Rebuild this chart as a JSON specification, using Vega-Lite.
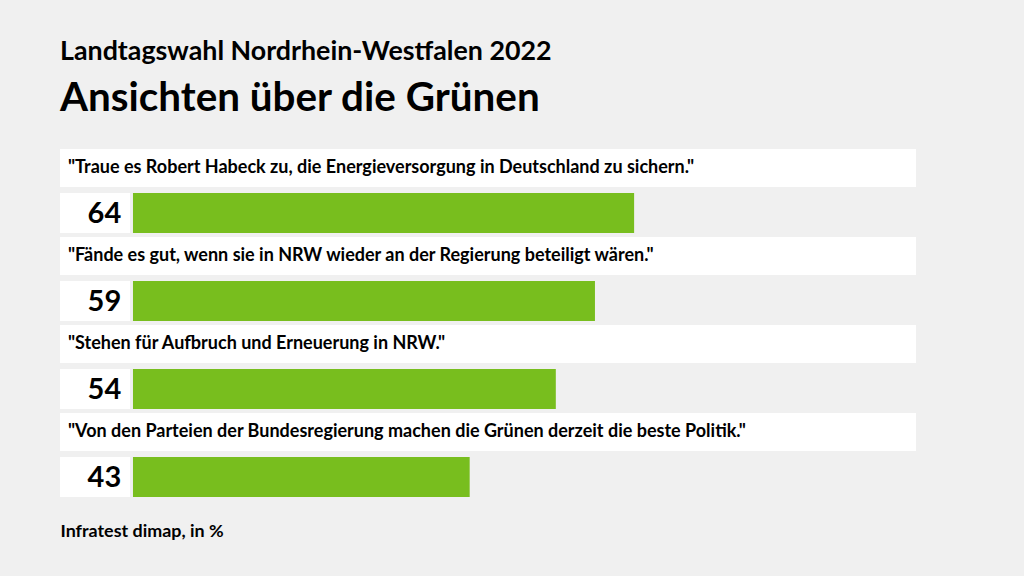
{
  "$schema": "https://vega.github.io/schema/vega-lite/v6.json",
  "width": 856,
  "height": 352,
  "autosize": {"type": "none"},
  "padding": {"left": 60, "top": 149, "right": 108, "bottom": 75},
  "background": "#f0f0f0",
  "config": {"view": {"stroke": null}, "font": "Lato"},
  "title": {
    "text": "Landtagswahl Nordrhein-Westfalen 2022",
    "subtitle": "Ansichten über die Grünen",
    "anchor": "start",
    "frame": "group",
    "font": "Lato",
    "subtitleFont": "Lato",
    "fontSize": 26.8,
    "fontWeight": 700,
    "subtitleFontSize": 40.4,
    "subtitleFontWeight": 700,
    "color": "#000000",
    "subtitleColor": "#000000",
    "offset": 30,
    "subtitlePadding": 13
  },
  "data": {
    "values": [
      {"frage": "\"Traue es Robert Habeck zu, die Energieversorgung in Deutschland zu sichern.\"", "wert": 64},
      {"frage": "\"Fände es gut, wenn sie in NRW wieder an der Regierung beteiligt wären.\"", "wert": 59},
      {"frage": "\"Stehen für Aufbruch und Erneuerung in NRW.\"", "wert": 54},
      {"frage": "\"Von den Parteien der Bundesregierung machen die Grünen derzeit die beste Politik.\"", "wert": 43}
    ]
  },
  "encoding": {
    "y": {"field": "frage", "type": "nominal", "sort": null, "axis": null, "scale": {"paddingInner": 0, "paddingOuter": 0}}
  },
  "layer": [
    {
      "mark": {"type": "bar", "color": "#ffffff", "height": 38, "yOffset": -25},
      "encoding": {
        "x": {
          "datum": -9.32,
          "type": "quantitative",
          "scale": {"domain": [-9.32, 100], "nice": false, "zero": false},
          "axis": {
            "title": "Infratest dimap, in %",
            "labels": false, "ticks": false, "domain": false, "grid": false,
            "titleAnchor": "start", "titleAlign": "left", "titleBaseline": "top",
            "titleFont": "Lato", "titleFontSize": 17.9, "titleFontWeight": 700, "titleColor": "#000000",
            "titlePadding": 21
          }
        },
        "x2": {"datum": 100}
      }
    },
    {
      "mark": {"type": "bar", "color": "#ffffff", "height": 40, "yOffset": 20},
      "encoding": {
        "x": {"datum": -9.32, "type": "quantitative"},
        "x2": {"datum": -0.38}
      }
    },
    {
      "mark": {"type": "bar", "color": "#78be1e", "height": 40, "yOffset": 20},
      "encoding": {
        "x": {"field": "wert", "type": "quantitative"},
        "x2": {"datum": 0}
      }
    },
    {
      "mark": {"type": "text", "align": "left", "baseline": "middle", "dx": 8, "yOffset": -25, "fontSize": 18, "fontWeight": 700, "color": "#000000"},
      "encoding": {
        "x": {"datum": -9.32, "type": "quantitative"},
        "text": {"field": "frage"}
      }
    },
    {
      "mark": {"type": "text", "align": "right", "baseline": "middle", "yOffset": 20.5, "fontSize": 29, "fontWeight": 700, "color": "#000000"},
      "encoding": {
        "x": {"datum": -1.5, "type": "quantitative"},
        "text": {"field": "wert"}
      }
    }
  ]
}
